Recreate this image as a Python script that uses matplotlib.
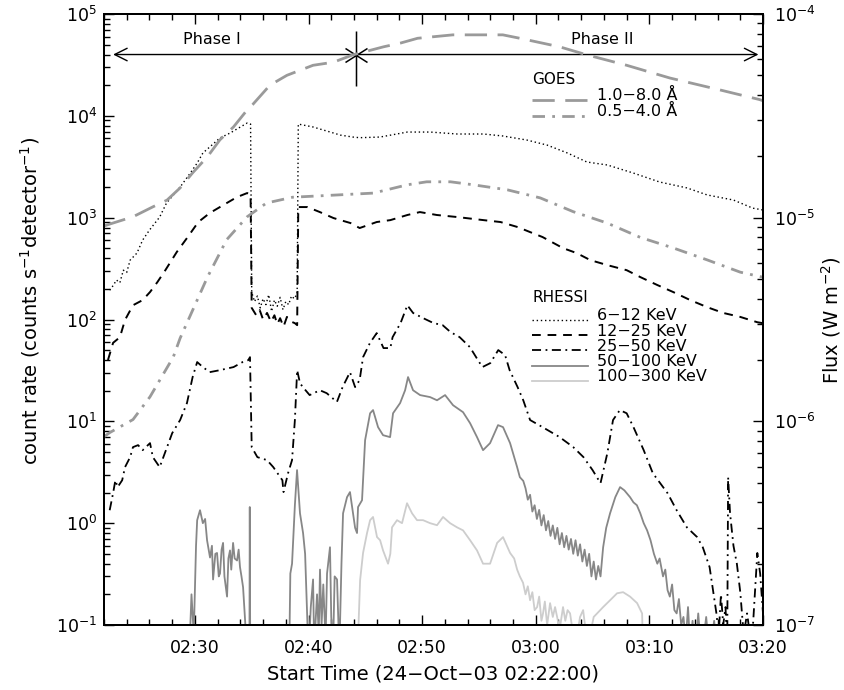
import numpy as np
import matplotlib
matplotlib.use("Agg")
import matplotlib.pyplot as plt
from matplotlib.path import Path
from matplotlib.lines import Line2D
from matplotlib.ticker import (LogLocator, LogFormatterMathtext, FixedLocator,
                               MultipleLocator, NullFormatter)

plt.rcParams['font.family'] = ['DejaVu Sans']
plt.rcParams['mathtext.default'] = 'regular'

# ---------------------------------------------------------------------------
# Light curves, time in minutes after 02:22:00 UT on 24-Oct-2003
# ---------------------------------------------------------------------------

# GOES soft X-ray flux (W m^-2)
t_goes_long = [0.0, 0.5, 2.55, 4.3, 5.55, 6.7, 7.8, 9.1, 10.2, 11.4, 12.6, 13.1,
               14.6, 16.1, 18.4, 20.2, 21.9, 24.6, 26.1, 27.6, 30.7, 35.1, 36.6,
               40.1, 42.5, 46.0, 49.8, 54.2, 57.7, 58.0]
f_goes_long = [9.1e-6, 9.3e-6, 1.01e-5, 1.13e-5, 1.22e-5, 1.40e-5, 1.66e-5, 1.99e-5,
               2.41e-5, 2.79e-5, 3.38e-5, 3.6e-5, 4.47e-5, 5.0e-5, 5.6e-5, 5.8e-5,
               6.3e-5, 6.9e-5, 7.2e-5, 7.6e-5, 7.9e-5, 7.9e-5, 7.6e-5, 6.9e-5,
               6.3e-5, 5.6e-5, 4.85e-5, 4.24e-5, 3.8e-5, 3.75e-5]

t_goes_short = [0.0, 0.5, 2.55, 4.05, 6.1, 6.7, 9.1, 10.8, 12.6, 14.3, 16.6, 20.2,
                23.7, 26.7, 28.4, 30.5, 32.5, 35.5, 38.4, 41.3, 44.3, 47.2, 50.1,
                53.1, 56.0, 58.0]
f_goes_short = [8.4e-7, 8.8e-7, 1.02e-6, 1.32e-6, 2.07e-6, 2.56e-6, 5.1e-6, 7.8e-6,
                1.01e-5, 1.18e-5, 1.26e-5, 1.29e-5, 1.32e-5, 1.45e-5, 1.50e-5,
                1.50e-5, 1.45e-5, 1.37e-5, 1.25e-5, 1.07e-5, 9.4e-6, 8.0e-6, 7.1e-6,
                6.2e-6, 5.4e-6, 5.1e-6]

# RHESSI count rates (counts s^-1 detector^-1)
t_612 = [0.5, 0.8, 1.1, 1.4, 1.7, 2.0, 2.3, 2.9, 3.4, 4.0, 4.9, 5.5, 6.7, 7.6, 8.2,
         8.7, 9.3, 10.2, 11.1, 12.0, 12.6, 12.9,
         13.0, 13.25, 13.5, 13.75, 14.0, 14.25, 14.5, 14.75, 15.0, 15.25, 15.5,
         15.75, 16.0, 16.25, 16.5, 16.75, 17.0,
         17.1, 18.4, 20.2, 20.8, 21.9, 22.5, 24.3, 26.7, 28.7, 31.1, 33.4, 35.1,
         37.2, 39.0, 40.8, 42.5, 44.3, 46.6, 48.9, 51.3, 53.1, 55.4, 57.1, 58.0]
c_612 = [194, 215, 244, 230, 305, 290, 383, 449, 602, 755, 1014, 1391, 1998, 2744,
         3436, 4312, 4939, 6057, 6780, 7767, 8496, 8300,
         185, 150, 170, 130, 160, 140, 175, 120, 155, 135, 165, 125, 150, 140, 170,
         160, 180,
         8300, 7770, 6780, 6470, 6190, 6100, 6190, 6930, 6930, 6630, 6630, 6340,
         5790, 5160, 4310, 3520, 3290, 2740, 2240, 1960, 1670, 1490, 1240, 1190]

t_1225 = [0.35, 0.8, 1.4, 1.85, 2.55, 3.4, 4.05, 4.7, 5.4, 6.4, 7.3, 8.3, 9.3, 10.5,
          11.7, 12.6, 12.9,
          13.0, 13.4, 13.7, 14.0, 14.35, 14.7, 15.0, 15.25, 15.5, 15.8, 16.1, 16.5,
          16.8, 17.0,
          17.1, 17.9, 19.0, 20.2, 21.7, 22.5, 24.0, 25.2, 26.7, 27.8, 29.3, 31.1,
          33.4, 34.9, 36.4, 37.5, 38.6, 40.4, 41.6, 42.8, 44.3, 46.0, 47.2, 48.7,
          50.1, 51.6, 53.1, 54.5, 56.0, 57.5, 58.0]
c_1225 = [40, 59, 67, 99, 138, 155, 186, 233, 305, 459, 630, 906, 1109, 1330, 1592,
          1744, 1700,
          130, 110, 124, 100, 116, 95, 110, 90, 103, 85, 106, 95, 92, 88,
          1271, 1271, 1135, 991, 885, 791, 906, 946, 1062, 1135, 1062, 1014, 946,
          906, 809, 722, 645, 502, 449, 383, 342, 305, 261, 218, 186, 155, 132,
          116, 106, 94, 92]

t_2550 = [0.5, 0.8, 1.0, 1.2, 1.6, 1.85, 2.3, 2.55, 3.0, 3.4, 4.05, 4.3, 4.9, 5.55,
          6.0, 6.7, 7.3, 7.8, 8.2, 8.7, 9.3, 10.2, 11.4, 12.2, 12.7, 12.85,
          13.0, 13.5, 14.35, 14.9, 15.7, 15.8, 16.2, 16.55, 16.8, 17.0,
          17.25, 17.5, 18.1, 19.0, 19.6, 20.5, 21.0, 21.65, 22.1, 22.5, 22.8, 23.4,
          24.0, 24.6, 25.2, 25.4, 26.1, 26.7, 27.2, 28.1, 29.0, 29.8, 30.5, 31.3,
          32.2, 32.8, 33.3, 34.0, 34.7, 35.3, 35.7, 36.4, 36.9, 37.5, 38.6, 40.1,
          41.3, 42.2, 43.0, 43.7, 44.3, 44.8, 45.4, 46.0, 46.6, 47.5, 48.3, 49.6,
          50.4, 51.3, 52.2, 52.7, 53.3, 53.6, 53.9, 54.1, 54.3, 54.5, 54.7, 54.85,
          54.93, 55.1, 55.4, 55.7, 56.0, 56.3, 56.6, 57.0, 57.5, 57.75, 58.0]
c_2550 = [1.34, 1.97, 2.64, 2.26, 2.64, 3.55, 4.45, 5.58, 5.84, 5.21, 6.11, 4.45,
          3.55, 5.58, 7.65, 10.3, 15.1, 27.2, 38.2, 34.1, 30.4, 31.8, 34.1, 38.2,
          39.9, 42.7,
          5.58, 4.45, 4.16, 3.55, 2.64, 2.02, 3.10, 4.16, 10.3, 31.8,
          23.7, 21.7, 18.1, 20.2, 18.9, 15.5, 21.7, 30.4, 21.7, 25.4, 42.7, 58.6,
          73.5, 52.4, 52.4, 67.1, 92.2, 138, 116, 103, 92.2, 88.1, 75.2, 67.1,
          53.6, 41.8, 34.1, 37.3, 50.1, 44.7, 31.8, 21.7, 16.1, 10.3, 8.77, 7.0,
          5.58, 4.45, 3.32, 2.47, 4.87, 10.3, 12.9, 12.0, 8.77, 5.21, 3.10, 1.97,
          1.34, 0.91, 0.73, 0.58, 0.37, 0.22, 0.13, 0.08, 0.2, 0.1, 0.15, 0.06,
          2.83, 1.25, 0.6, 0.40, 0.21, 0.08, 0.13, 0.06, 0.51, 0.32, 0.13]

t_50100 = [7.5, 7.7, 7.9, 8.1, 8.2, 8.45, 8.7, 8.9, 9.07, 9.33, 9.5, 9.6, 9.8, 9.95,
           10.1, 10.21, 10.35, 10.48, 10.6, 10.83, 10.95, 11.09, 11.2, 11.36, 11.5,
           11.71, 11.85, 11.97, 12.1, 12.24, 12.4, 12.59, 12.8, 12.83, 12.87,
           16.3, 16.4, 16.55, 16.8, 16.99, 17.25, 17.52, 17.7, 17.87, 18.0, 18.2,
           18.4, 18.5, 18.75, 18.9, 19.01, 19.15, 19.3, 19.5, 19.63, 19.89, 20.0,
           20.16, 20.3, 20.51, 20.65, 20.77, 20.9, 21.04, 21.39, 21.65, 21.92, 22.1,
           22.27, 22.36, 22.71, 22.98, 23.42, 23.68, 24.12, 24.56, 25.18, 25.44,
           26.06, 26.5, 26.76, 27.2, 27.82, 28.7, 29.31, 30.02, 30.72, 31.6, 32.22,
           32.83, 33.36, 33.98, 34.68, 35.12, 35.74, 36.36, 36.6,
           36.9, 37.1, 37.3, 37.5, 37.7, 37.9, 38.1, 38.3, 38.5, 38.7, 38.9, 39.1,
           39.3, 39.5, 39.7, 39.9, 40.1, 40.3, 40.5, 40.7, 40.9, 41.1, 41.3, 41.5,
           41.7, 41.9, 42.1, 42.3, 42.5, 42.7, 42.9, 43.1, 43.3, 43.5, 43.7, 43.93,
           44.2, 44.54, 45.0, 45.42, 45.8, 46.3, 46.6, 46.9, 47.2, 47.5, 47.8, 48.1,
           48.4, 48.7, 48.9, 49.2, 49.4, 49.6, 49.8, 50.0, 50.2, 50.4, 50.6, 50.8,
           51.0, 51.2, 51.4, 51.6, 51.8, 52.0, 52.3, 52.6, 53.0, 53.3, 53.7, 54.0,
           54.5]
c_50100 = [0.05, 0.2, 0.08, 0.6, 1.07, 1.34, 1.0, 1.1, 0.68, 0.46, 0.6, 0.28, 0.5,
           0.51, 0.3, 0.32, 0.55, 0.64, 0.3, 0.19, 0.45, 0.54, 0.35, 0.64, 0.45,
           0.43, 0.55, 0.37, 0.3, 0.235, 0.12, 0.05, 0.05, 1.44, 0.05,
           0.05, 0.32, 0.4, 1.5, 3.32, 1.25, 0.80, 0.5, 0.13, 0.05, 0.15,
           0.28, 0.06, 0.2, 0.08, 0.35, 0.1, 0.25, 0.07, 0.32, 0.58, 0.12,
           0.06, 0.3, 0.28, 0.09, 0.1, 0.4, 1.25, 1.80, 2.02, 1.25, 0.9,
           0.80, 1.44, 1.68, 6.53, 12.0, 12.9, 8.77, 7.31, 7.0, 12.0,
           15.1, 20.2, 27.2, 20.2, 18.1, 17.3, 16.1, 18.1, 14.4, 12.3, 9.59,
           7.0, 5.21, 6.11, 9.18, 8.77, 6.11, 3.55, 2.83,
           2.6, 2.2, 1.7, 1.9, 1.3, 1.5, 1.1, 1.35, 0.95, 1.2, 0.85, 1.05,
           0.75, 0.95, 0.7, 0.9, 0.62, 0.8, 0.58, 0.75, 0.55, 0.7, 0.5, 0.68,
           0.48, 0.62, 0.42, 0.55, 0.38, 0.5, 0.3, 0.42, 0.28, 0.38, 0.3, 0.58,
           0.9, 1.25, 1.8, 2.26, 2.1, 1.8, 1.6, 1.5, 1.25, 1.0, 0.85, 0.68,
           0.5, 0.40, 0.45, 0.3, 0.35, 0.22, 0.19, 0.25, 0.14, 0.13, 0.18, 0.1,
           0.12, 0.07, 0.15, 0.06, 0.11, 0.05, 0.13, 0.05, 0.12, 0.05, 0.11, 0.05,
           0.05]

t_100300 = [22.27, 22.4, 22.54, 22.8, 23.15, 23.42, 23.68, 24.03, 24.3, 24.56, 25.0,
            25.2, 25.35, 25.79, 26.23, 26.67, 27.11, 27.55, 28.08, 28.7, 29.31,
            29.84, 30.46, 31.07, 31.6, 32.22, 32.83, 33.36, 33.98, 34.6, 35.12,
            35.74, 36.1, 36.36, 36.6, 36.88, 37.1, 37.3, 37.5, 37.7, 37.9, 38.12,
            38.3, 38.5, 38.64, 38.8, 39.0, 39.26, 39.5, 39.7, 39.88, 40.1, 40.4,
            40.6, 40.8, 41.02, 41.3, 41.64, 41.9, 42.17, 42.5, 42.78, 43.1, 43.4,
            43.93, 44.54, 45.16, 45.69, 46.3, 46.92, 47.36, 47.45]
c_100300 = [0.05, 0.1, 0.275, 0.51, 0.80, 1.07, 1.15, 0.73, 0.68, 0.54, 0.40,
            0.5, 0.91, 1.07, 1.0, 1.57, 1.25, 1.07, 1.07, 1.0, 0.955,
            1.15, 1.0, 0.91, 0.85, 0.68, 0.54, 0.40, 0.40, 0.64, 0.73,
            0.51, 0.45, 0.35, 0.3, 0.26, 0.2, 0.24, 0.175, 0.21, 0.14, 0.15,
            0.19, 0.11, 0.13, 0.17, 0.1, 0.164, 0.12, 0.15, 0.12, 0.09, 0.15,
            0.11, 0.14, 0.13, 0.08, 0.08, 0.12, 0.14, 0.07, 0.08, 0.12, 0.13,
            0.15, 0.175, 0.205, 0.21, 0.19, 0.164, 0.13, 0.05]

# Phase boundary (minutes after start) and the level of the phase arrows
phase_split = 22.2
phase_level = 4.0e4
phase_left_tip = 0.8
phase_right_tip = 57.6

# Time axis labels
tick_times = ["02:30", "02:40", "02:50", "03:00", "03:10", "03:20"]
tick_minutes = [(int(s[:2]) * 60 + int(s[3:])) - (2 * 60 + 22) for s in tick_times]

# ---------------------------------------------------------------------------
# Styles
# ---------------------------------------------------------------------------
GREY_GOES = '#9a9a9a'
GREY_MID = '#878787'
GREY_LIGHT = '#cdcdcd'

sty_goes_long = dict(color=GREY_GOES, lw=2.0, ls=(0, (8, 3.8)))
sty_goes_short = dict(color=GREY_GOES, lw=2.0, ls=(0, (4.5, 2.6, 1.0, 2.6)))
sty_612 = dict(color='k', lw=1.0, ls=(0, (1, 2)))
sty_1225 = dict(color='k', lw=1.4, ls=(0, (4.5, 3.5)))
sty_2550 = dict(color='k', lw=1.3, ls=(0, (5, 2.5, 1, 2.5)))
sty_50100 = dict(color=GREY_MID, lw=1.3, ls='-')
sty_100300 = dict(color=GREY_LIGHT, lw=1.3, ls='-')

# ---------------------------------------------------------------------------
# Figure
# ---------------------------------------------------------------------------
W, H = 844, 690
fig = plt.figure(figsize=(W / 100, H / 100), dpi=100)
L, R, T, B = 104, 763, 14, 625
ax = fig.add_axes([L / W, 1 - B / H, (R - L) / W, (B - T) / H])
ax2 = ax.twinx()
ax2.xaxis.set_visible(False)

ax.set_yscale('log')
ax.set_ylim(0.1, 1e5)
ax.set_xlim(0, 58)
ax2.set_yscale('log')
ax2.set_ylim(1e-7, 1e-4)

# RHESSI curves
ax.plot(t_612, c_612, **sty_612)
ax.plot(t_1225, c_1225, **sty_1225)
ax.plot(t_2550, c_2550, **sty_2550)
ax.plot(t_50100, c_50100, **sty_50100)
ax.plot(t_100300, c_100300, **sty_100300)

# GOES curves
ax2.plot(t_goes_long, f_goes_long, **sty_goes_long)
ax2.plot(t_goes_short, f_goes_short, **sty_goes_short)

# Phase arrows and boundary mark
arrow_kw = dict(arrowstyle='->,head_length=0.9,head_width=0.45', lw=1.0,
                color='k', shrinkA=0, shrinkB=0, mutation_scale=10)
ax.annotate('', xy=(phase_left_tip, phase_level), xytext=(phase_split, phase_level),
            arrowprops=arrow_kw)
ax.annotate('', xy=(phase_right_tip, phase_level), xytext=(phase_split, phase_level),
            arrowprops=arrow_kw)
cross = Path([(0, 24), (0, -31), (-11, 7), (11, -7), (-11, -7), (11, 7)],
             [Path.MOVETO, Path.LINETO, Path.MOVETO, Path.LINETO,
              Path.MOVETO, Path.LINETO])
ax.plot([phase_split], [phase_level], ls='none', marker=cross, ms=62 * 0.72,
        mew=1.1, mec='k', mfc='none')
ax.text((212 - L) / (R - L), (B - 40) / (B - T), 'Phase I', transform=ax.transAxes,
        ha='center', va='center', fontsize=11.5)
ax.text((602 - L) / (R - L), (B - 40) / (B - T), 'Phase II', transform=ax.transAxes,
        ha='center', va='center', fontsize=11.5)

# Legends
def fx(px):
    return (px - L) / (R - L)

def fy(py):
    return (B - py) / (B - T)

def legend_block(title, title_y, entries, first_y, step):
    ax.text(fx(532), fy(title_y), title, transform=ax.transAxes, ha='left',
            va='center', fontsize=11)
    for i, (label, sty) in enumerate(entries):
        y = first_y + i * step
        ax.add_line(Line2D([fx(532), fx(588)], [fy(y), fy(y)],
                           transform=ax.transAxes, **sty))
        ax.text(fx(597), fy(y + 0.5), label, transform=ax.transAxes, ha='left',
                va='baseline', fontsize=11.5)

legend_block('GOES', 79,
             [('1.0\u22128.0 \u00c5', sty_goes_long),
              ('0.5\u22124.0 \u00c5', sty_goes_short)], 100, 16)
legend_block('RHESSI', 297,
             [('6\u221212 KeV', sty_612),
              ('12\u221225 KeV', sty_1225),
              ('25\u221250 KeV', sty_2550),
              ('50\u2212100 KeV', sty_50100),
              ('100\u2212300 KeV', sty_100300)], 320, 15.2)

# Axes, ticks and labels
ax.xaxis.set_major_locator(FixedLocator(tick_minutes))
ax.set_xticklabels(tick_times)
ax.xaxis.set_minor_locator(MultipleLocator(2))
ax.xaxis.set_minor_formatter(NullFormatter())
for a in (ax, ax2):
    a.yaxis.set_major_locator(LogLocator(base=10, numticks=20))
    a.yaxis.set_minor_locator(LogLocator(base=10, subs=np.arange(2, 10), numticks=20))
    a.yaxis.set_minor_formatter(NullFormatter())
    a.yaxis.set_major_formatter(LogFormatterMathtext())

ax.tick_params(axis='both', which='both', direction='in', top=True, right=False,
               labelsize=12.5, color='k')
ax.tick_params(which='major', length=7.5, width=1.0)
ax.tick_params(which='minor', length=4, width=1.0)
ax.tick_params(axis='x', which='major', pad=10)
ax.tick_params(axis='y', which='major', pad=5)
ax2.tick_params(axis='y', which='both', direction='in', right=True, left=False,
                labelsize=12.5)
ax2.tick_params(axis='y', which='major', length=7.5, width=1.0, pad=8)
ax2.tick_params(axis='y', which='minor', length=4, width=1.0)

for a in (ax, ax2):
    for s in a.spines.values():
        s.set_linewidth(1.4)

fig.text(30 / W, 1 - 301 / H, 'count rate (counts s$^{-1}$detector$^{-1}$)',
         rotation=90, ha='center', va='center', fontsize=14)
fig.text(433 / W, 1 - 674 / H, 'Start Time (24\u2212Oct\u221203 02:22:00)',
         ha='center', va='center', fontsize=14)
fig.text(831 / W, 1 - 320 / H, 'Flux (W m$^{-2}$)', rotation=90, ha='center',
         va='center', fontsize=14)

fig.savefig('out.png', dpi=100)
